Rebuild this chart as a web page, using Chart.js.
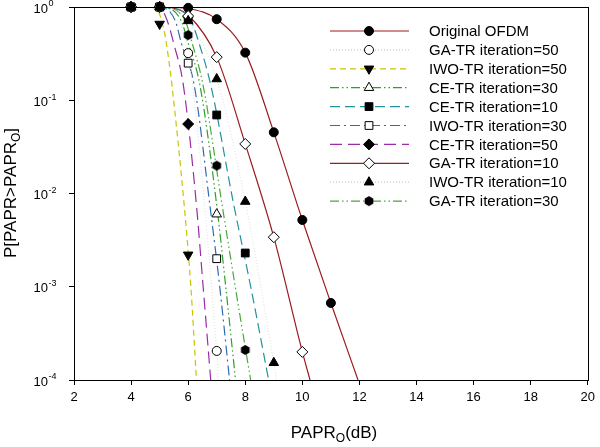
<!DOCTYPE html>
<html>
<head>
<meta charset="utf-8">
<script src="https://cdn.jsdelivr.net/npm/chart.js@4.4.0/dist/chart.umd.min.js"></script>
<style>
  html, body { margin: 0; background: #fff; }
  #wrap { width: 600px; height: 447px; }
</style>
</head>
<body>
<div id="wrap"><canvas id="papr"></canvas></div>
<script>
// ---- axes ----
const xTicks = [2, 4, 6, 8, 10, 12, 14, 16, 18, 20];
const yTicks = [1e-4, 1e-3, 1e-2, 1e-1, 1];
const yExponents = ['-4', '-3', '-2', '-1', '0'];

// ---- curves [PAPR_O dB, probability] ----
const ofdmLine   = [[4,1],[5,1],[6,0.96],[7,0.74],[8,0.324],[9,0.0453],[10,0.0052],[11,6.7e-4],[11.95,1e-4]];
const ofdmMarks  = [[4,1],[5,1],[6,0.98],[7,0.74],[8,0.324],[9,0.0453],[10,0.0052],[11,6.7e-4]];

const ga50Line   = [[4,1],[5,1],[5.5,0.8],[6,0.32],[7,2.05e-4],[7.07,1e-4]];
const ga50Marks  = [[4,1],[5,1],[6,0.32],[7,2.05e-4]];

const iwo50Line  = [[4,1],[4.85,0.98],[5.15,0.57],[5.32,0.27],[5.43,0.146],[5.86,0.0075],[6.09,0.00104],[6.29,1e-4]];
const iwo50Marks = [[4,1],[5,0.657],[6,0.0022]];

const ce30Line   = [[4,1],[5.2,0.98],[5.76,0.708],[6.0,0.41],[6.41,0.146],[7.0,0.0075],[7.31,0.00104],[7.66,1e-4]];
const ce30Marks  = [[4,1],[5,1],[6,0.82],[7,0.006]];

const ce10Line   = [[4,1],[5.3,0.98],[6.1,0.708],[6.38,0.41],[6.79,0.146],[7.6,0.0075],[8.18,0.00104],[8.82,1e-4]];
const ce10Marks  = [[4,1],[5,1],[6,0.75],[7,0.0695],[8,0.0023]];

const iwo30Line  = [[4,1],[5.1,0.98],[5.55,0.708],[5.76,0.41],[6.21,0.146],[6.76,0.0075],[7.1,0.00104],[7.45,1e-4]];
const iwo30Marks = [[4,1],[5,1],[6,0.25],[7,0.002]];

const ce50Line   = [[4,1],[5.0,0.98],[5.27,0.708],[5.5,0.4],[5.83,0.146],[6.29,0.0075],[6.52,0.00104],[6.79,1e-4]];
const ce50Marks  = [[4,1],[5,1],[6,0.0556]];

const ga10Line   = [[4,1],[5,1],[5.5,0.97],[6,0.82],[7,0.29],[8,0.034],[9,0.0034],[10,2e-4],[10.27,1e-4]];
const ga10Marks  = [[4,1],[5,1],[6,0.8],[7,0.29],[8,0.034],[9,0.0034],[10,2e-4]];

const iwo10Line  = [[4,1],[5,1],[5.5,0.93],[6,0.71],[7,0.169],[8,0.0082],[9,1.53e-4],[9.1,1e-4]];
const iwo10Marks = [[4,1],[5,1],[6,0.71],[7,0.169],[8,0.0082],[9,1.53e-4]];

const ga30Line   = [[4,1],[5.25,0.98],[5.9,0.708],[6.14,0.41],[6.52,0.146],[7.19,0.0075],[7.64,0.00104],[8.19,1e-4]];
const ga30Marks  = [[4,1],[5,1],[6,0.5],[7,0.0199],[8,2.1e-4]];

const FONT = '"Liberation Sans", Arial, sans-serif';

function hexagon(r) {
    const c = document.createElement('canvas');
    c.width = c.height = 2 * r + 2;
    const g = c.getContext('2d');
    g.beginPath();
    for (let k = 0; k < 6; k++) {
        const a = Math.PI / 6 + k * Math.PI / 3;
        const px = r + 1 + r * Math.cos(a), py = r + 1 + r * Math.sin(a);
        if (k) g.lineTo(px, py); else g.moveTo(px, py);
    }
    g.closePath();
    g.fillStyle = '#000';
    g.fill();
    return c;
}

const DOTTED = [1, 2];
const DASHDOTDOT = [9, 3, 1.5, 3, 1.5, 3];
const FAINT = '#e2e2e2';

// legend order
const series = [
    { name: 'Original OFDM',         line: ofdmLine,  marks: ofdmMarks,  color: '#9b1c20', dash: [],          point: 'circle',   fill: '#000', r: 4.5 },
    { name: 'GA-TR iteration=50',    line: ga50Line,  marks: ga50Marks,  color: FAINT,     dash: DOTTED,      point: 'circle',   fill: '#fff', r: 4.5 },
    { name: 'IWO-TR iteration=50',   line: iwo50Line, marks: iwo50Marks, color: '#c9c500', dash: [6, 4],      point: 'triangle', fill: '#000', r: 5.5, rot: 180 },
    { name: 'CE-TR iteration=30',    line: ce30Line,  marks: ce30Marks,  color: '#2e9e2e', dash: DASHDOTDOT,  point: 'triangle', fill: '#fff', r: 5.5 },
    { name: 'CE-TR iteration=10',    line: ce10Line,  marks: ce10Marks,  color: '#21929e', dash: [10, 5],     point: 'rect',     fill: '#000', r: 5.5 },
    { name: 'IWO-TR iteration=30',   line: iwo30Line, marks: iwo30Marks, color: '#2d6bb5', dash: [10, 4, 2, 4], point: 'rect',   fill: '#fff', r: 5.5 },
    { name: 'CE-TR iteration=50',    line: ce50Line,  marks: ce50Marks,  color: '#9b2ba6', dash: [12, 6],     point: 'rectRot',  fill: '#000', r: 5.5 },
    { name: 'GA-TR iteration=10',    line: ga10Line,  marks: ga10Marks,  color: '#9b1c20', dash: [],          point: 'rectRot',  fill: '#fff', r: 5.5 },
    { name: 'IWO-TR iteration=10',   line: iwo10Line, marks: iwo10Marks, color: FAINT,     dash: DOTTED,      point: 'triangle', fill: '#000', r: 5.5 },
    { name: 'GA-TR iteration=30',    line: ga30Line,  marks: ga30Marks,  color: '#4aa83a', dash: DASHDOTDOT,  point: hexagon(5), fill: '#000', r: 5 }
];

const toXY = pts => pts.map(([x, y]) => ({ x, y }));

// markers first so they sit on top of the curves; last legend entry on top
const markerSets = series.slice().reverse().map(s => ({
    label: s.name + ' marks',
    data: toXY(s.marks),
    showLine: false,
    pointStyle: s.point,
    pointRadius: s.r,
    pointRotation: s.rot || 0,
    pointBackgroundColor: s.fill,
    pointBorderColor: '#000',
    pointBorderWidth: 1,
    clip: false
}));

const lineSets = series.map(s => ({
    label: s.name,
    data: toXY(s.line),
    borderColor: s.color,
    borderWidth: 1.2,
    borderDash: s.dash,
    pointRadius: 0,
    cubicInterpolationMode: 'monotone',
    fill: false
}));

function drawParts(ctx, parts, x, y, align) {
    // parts: [text, sizePx, baselineShift]
    let total = 0;
    parts.forEach(p => { ctx.font = p[1] + 'px ' + FONT; total += ctx.measureText(p[0]).width; });
    let cx = align === 'center' ? x - total / 2 : x;
    parts.forEach(p => {
        ctx.font = p[1] + 'px ' + FONT;
        ctx.fillText(p[0], cx, y + p[2]);
        cx += ctx.measureText(p[0]).width;
    });
}

const decorPlugin = {
    id: 'decor',
    afterDraw(chart) {
        const ctx = chart.ctx;
        const area = chart.chartArea;
        const yScale = chart.scales.y;
        ctx.save();

        // plot box
        ctx.strokeStyle = '#000';
        ctx.lineWidth = 1;
        ctx.strokeRect(Math.round(area.left) + 0.5, Math.round(area.top) + 0.5,
                       Math.round(area.right - area.left), Math.round(area.bottom - area.top));

        // y tick labels 10^n
        ctx.fillStyle = '#000';
        ctx.textBaseline = 'middle';
        yTicks.forEach((v, i) => {
            const py = yScale.getPixelForValue(v);
            ctx.font = '13px ' + FONT;
            ctx.textAlign = 'right';
            ctx.fillText('10', 48, py + 2);
            ctx.font = '9px ' + FONT;
            ctx.textAlign = 'left';
            ctx.fillText(yExponents[i], 48.5, py - 3);
        });

        // axis titles
        ctx.textAlign = 'left';
        ctx.textBaseline = 'alphabetic';
        drawParts(ctx, [['PAPR', 17, 0], ['O', 12, 4], ['(dB)', 17, 0]], 334, 438, 'center');
        ctx.save();
        ctx.translate(16, 193);
        ctx.rotate(-Math.PI / 2);
        drawParts(ctx, [['P[PAPR>PAPR', 17, 0], ['O', 12, 4], [']', 17, 0]], 0, 0, 'center');
        ctx.restore();

        // legend
        series.forEach((s, i) => {
            const y = 31 + i * 18.9;
            ctx.strokeStyle = s.color === FAINT ? '#cccccc' : s.color;
            ctx.lineWidth = 1.2;
            ctx.setLineDash(s.dash);
            ctx.beginPath();
            ctx.moveTo(330, y);
            ctx.lineTo(409, y);
            ctx.stroke();
            ctx.setLineDash([]);
            ctx.fillStyle = s.fill;
            ctx.strokeStyle = '#000';
            ctx.lineWidth = 1;
            Chart.helpers.drawPoint(ctx, { pointStyle: s.point, rotation: s.rot || 0, radius: s.r, borderWidth: 1 }, 369, y);
            ctx.fillStyle = '#000';
            ctx.font = '15px ' + FONT;
            ctx.textBaseline = 'middle';
            ctx.fillText(s.name, 429, y + 1);
        });
        ctx.restore();
    }
};

new Chart(document.getElementById('papr').getContext('2d'), {
    type: 'line',
    data: { datasets: [...markerSets, ...lineSets] },
    options: {
        animation: false,
        responsive: true,
        maintainAspectRatio: false,
        devicePixelRatio: 1,
        layout: { padding: { top: 7, right: 8, left: 0, bottom: 0 } },
        plugins: { legend: { display: false }, tooltip: { enabled: false } },
        scales: {
            x: {
                type: 'linear',
                min: 2, max: 20,
                afterBuildTicks: s => { s.ticks = xTicks.map(v => ({ value: v })); },
                afterFit: s => { s.height = 67; },
                ticks: { color: '#000', font: { size: 13, family: FONT }, padding: 5, maxRotation: 0 },
                grid: { drawOnChartArea: false, color: '#000', tickLength: 5 },
                border: { color: '#000', width: 1 }
            },
            y: {
                type: 'logarithmic',
                min: 1e-4, max: 1,
                afterBuildTicks: s => { s.ticks = yTicks.map(v => ({ value: v })); },
                afterFit: s => { s.width = 74; },
                ticks: { display: false },
                grid: { drawOnChartArea: false, color: '#000', tickLength: 5 },
                border: { color: '#000', width: 1 }
            }
        }
    },
    plugins: [decorPlugin]
});
</script>
</body>
</html>
